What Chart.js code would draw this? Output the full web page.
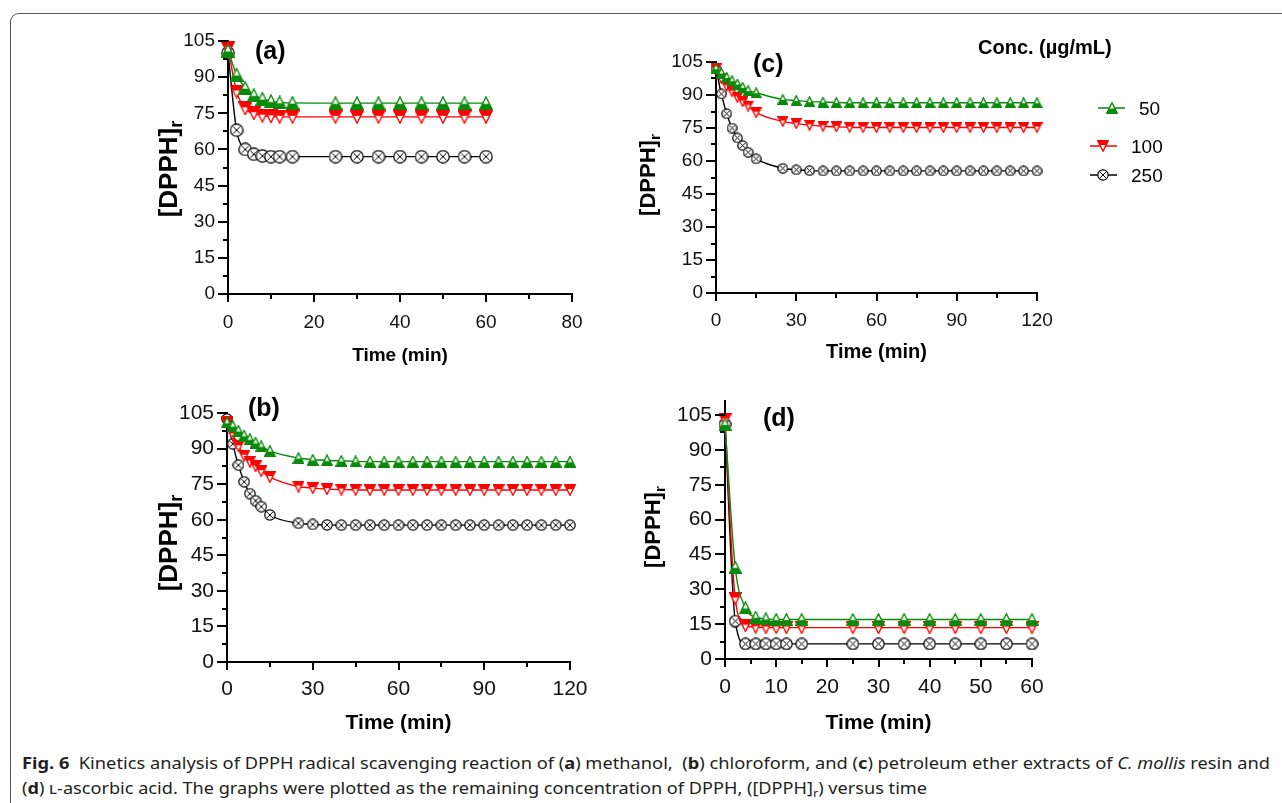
<!DOCTYPE html>
<html><head><meta charset="utf-8">
<script src="https://cdn.jsdelivr.net/npm/chart.js@4/dist/chart.umd.min.js"></script>
<style>
html,body{margin:0;padding:0;background:#fff;width:1282px;height:803px;overflow:hidden;font-family:"Liberation Sans",Arial,sans-serif;color:#000}
.frame{position:absolute;left:10px;top:13px;width:1400px;height:900px;border-top:1px solid #555;border-left:1px solid #555;border-top-left-radius:9px;box-sizing:border-box}
.pan{position:absolute}
.ytitle{position:absolute;font-weight:bold;white-space:nowrap;line-height:1;transform:translate(-50%,-50%) rotate(-90deg)}
.ytitle sub{font-size:70%;vertical-align:-0.3em;line-height:0}
.plabel{position:absolute;font-weight:bold;font-size:25px;line-height:1;white-space:nowrap}
.legtitle{position:absolute;font-weight:bold;font-size:20px;line-height:1;white-space:nowrap}
.legtxt{position:absolute;font-size:19px;line-height:1;white-space:nowrap}
.cap{position:absolute;left:22px;font-family:"Noto Sans","Open Sans",sans-serif;font-size:16px;line-height:20px;white-space:nowrap;color:#231f20;transform-origin:0 50%}
.cap sub{font-size:70%;vertical-align:-0.25em;line-height:0}
</style>
</head><body>
<div class="frame"></div>
<div class="pan" id="pa"><canvas id="ca"></canvas></div>
<div class="pan" id="pb"><canvas id="cb"></canvas></div>
<div class="pan" id="pc"><canvas id="cc"></canvas></div>
<div class="pan" id="pd"><canvas id="cd"></canvas></div>

<div class="ytitle" style="left:168px;top:169px;font-size:26px">[DPPH]<sub>r</sub></div>
<div class="ytitle" style="left:648px;top:175px;font-size:22px">[DPPH]<sub>r</sub></div>
<div class="ytitle" style="left:168px;top:543px;font-size:26px">[DPPH]<sub>r</sub></div>
<div class="ytitle" style="left:653px;top:527px;font-size:22px">[DPPH]<sub>r</sub></div>

<div class="plabel" style="left:255px;top:38px">(a)</div>
<div class="plabel" style="left:753px;top:51px">(c)</div>
<div class="plabel" style="left:248px;top:395px">(b)</div>
<div class="plabel" style="left:763px;top:405px">(d)</div>

<div class="legtitle" style="left:978px;top:37px">Conc. (µg/mL)</div>
<canvas id="lg1" width="40" height="20" style="position:absolute;left:1092px;top:98px"></canvas>
<canvas id="lg2" width="40" height="20" style="position:absolute;left:1084px;top:136px"></canvas>
<canvas id="lg3" width="40" height="20" style="position:absolute;left:1084px;top:165px"></canvas>
<div class="legtxt" style="left:1139px;top:99px">50</div>
<div class="legtxt" style="left:1131px;top:137px">100</div>
<div class="legtxt" style="left:1131px;top:166px">250</div>

<div class="cap" id="cap1" style="top:753px"><b>Fig. 6</b>&nbsp; Kinetics analysis of DPPH radical scavenging reaction of (<b>a</b>) methanol, &nbsp;(<b>b</b>) chloroform, and (<b>c</b>) petroleum ether extracts of <i>C. mollis</i> resin and</div>
<div class="cap" id="cap2" style="top:778px">(<b>d</b>) <span style="font-variant:small-caps">l</span>-ascorbic acid. The graphs were plotted as the remaining concentration of DPPH, ([DPPH]<sub>r</sub>) versus time</div>

<script>
// ---------------- data ----------------
const timeShort = [0,2,4,6,8,10,12,15,25,30,35,40,45,50,55,60];
const timeLong  = [0,2,4,6,8,10,12,15,25,30,35,40,45,50,55,60,65,70,75,80,85,90,95,100,105,110,115,120];
const concLabels = ['50','100','250'];
const yTicks = [0,15,30,45,60,75,90,105];

// (a) methanol
const a50  = [101,91,85.5,82.5,81,80,79.5,79.3,79.2,79.2,79.2,79.2,79.2,79.2,79.2,79.2];
const a100 = [102,84,77,75,74,73.7,73.5,73.5,73.5,73.5,73.5,73.5,73.5,73.5,73.5,73.5];
const a250 = [100,68,60,58,57.3,57,57,57,57,57,57,57,57,57,57,57];
// (b) chloroform
const b50  = [101,99.5,97.5,95.5,94,92.5,91,89,86,85.3,85,84.8,84.6,84.5,84.5,84.5,84.5,84.5,84.5,84.5,84.5,84.5,84.5,84.5,84.5,84.5,84.5,84.5];
const b100 = [101,96,91,87,84.5,82.5,80.5,78,74,73.3,72.9,72.7,72.6,72.5,72.5,72.5,72.5,72.5,72.5,72.5,72.5,72.5,72.5,72.5,72.5,72.5,72.5,72.5];
const b250 = [102.5,92,83,76,71,68,65.5,62,58.5,58,57.8,57.7,57.7,57.7,57.7,57.7,57.7,57.7,57.7,57.7,57.7,57.7,57.7,57.7,57.7,57.7,57.7,57.7];
// (c) petroleum ether
const c50  = [102,100,98,96.5,95,93.5,92,91,88,87.5,87,86.8,86.6,86.5,86.5,86.5,86.5,86.5,86.5,86.5,86.5,86.5,86.5,86.5,86.5,86.5,86.5,86.5];
const c100 = [102,97.5,94,91.5,89,87,85,82,78,77,76.3,75.8,75.5,75.3,75.2,75.2,75.2,75.2,75.2,75.2,75.2,75.2,75.2,75.2,75.2,75.2,75.2,75.2];
const c250 = [102,90.5,81.5,75,70.5,67,64,61,56.7,56,55.6,55.5,55.5,55.5,55.5,55.5,55.5,55.5,55.5,55.5,55.5,55.5,55.5,55.5,55.5,55.5,55.5,55.5];
// (d) L-ascorbic acid
const d50  = [101,39.5,22,18,17.3,17,17,17,17,17,17,17,17,17,17,17];
const d100 = [103,26,14.3,13.7,13.5,13.5,13.5,13.5,13.5,13.5,13.5,13.5,13.5,13.5,13.5,13.5];
const d250 = [101,16.3,6.5,6.5,6.5,6.5,6.5,6.5,6.5,6.5,6.5,6.5,6.5,6.5,6.5,6.5];

// ---------------- styles ----------------
const GREEN = '#0a8a0a', RED = '#ff0000', BLACK = '#000000';
const FONT = "'Liberation Sans', Arial, sans-serif";

function marker(kind, s, color) {
  const c = document.createElement('canvas');
  c.width = s; c.height = s;
  const g = c.getContext('2d');
  const m = 0.8;
  const shape = () => {
    g.beginPath();
    if (kind === 'up') { g.moveTo(s/2, m); g.lineTo(s-m, s-m); g.lineTo(m, s-m); g.closePath(); }
    else if (kind === 'down') { g.moveTo(m, m); g.lineTo(s-m, m); g.lineTo(s/2, s-m); g.closePath(); }
    else { g.arc(s/2, s/2, s/2-m, 0, Math.PI*2); }
  };
  g.lineWidth = 1.4; g.strokeStyle = color; g.fillStyle = '#fff';
  shape(); g.fill();
  g.save(); shape(); g.clip();
  g.fillStyle = color;
  if (kind === 'up') g.fillRect(0, s*0.55, s, s);
  if (kind === 'down') g.fillRect(0, 0, s, s*0.42);
  if (kind === 'x') {
    const r = (s/2-m)*0.55;
    g.beginPath();
    g.moveTo(s/2-r, s/2-r); g.lineTo(s/2+r, s/2+r);
    g.moveTo(s/2+r, s/2-r); g.lineTo(s/2-r, s/2+r);
    g.lineWidth = 1; g.stroke();
  }
  g.restore();
  g.lineWidth = kind === 'x' ? 1.2 : 1.4;
  shape(); g.stroke();
  return c;
}

const tickPlugin = {
  id: 'axisTicks',
  afterDraw(chart, args, o) {
    const {ctx, chartArea: a} = chart;
    const xs = chart.scales.x, ys = chart.scales.y;
    ctx.save();
    ctx.strokeStyle = '#000';
    ctx.lineWidth = 2;
    const isMajor = (v, step) => Math.abs(v/step - Math.round(v/step)) < 1e-6;
    for (let v = xs.min; v <= xs.max + 1e-9; v += o.xMinor) {
      const px = Math.round(xs.getPixelForValue(v));
      const len = isMajor(v, o.xMajor) ? o.xMajLen : o.xMinLen;
      ctx.beginPath(); ctx.moveTo(px, a.bottom); ctx.lineTo(px, a.bottom + len); ctx.stroke();
    }
    for (let v = ys.min; v <= ys.max + 1e-9; v += o.yMinor) {
      const py = Math.round(ys.getPixelForValue(v));
      const len = isMajor(v, o.yMajor) ? o.yMajLen : o.yMinLen;
      ctx.beginPath(); ctx.moveTo(a.left, py); ctx.lineTo(a.left - len, py); ctx.stroke();
    }
    if (o.yExtend) {
      const x = Math.round(a.left);
      ctx.beginPath(); ctx.moveTo(x, a.top); ctx.lineTo(x, a.top - o.yExtend); ctx.stroke();
    }
    ctx.restore();
  }
};

function build(cid, pid, p) {
  const YW = 70, PT = 18, PR = 32;
  const W = (p.r - p.l) + YW + PR;
  const H = (p.b - p.t) + PT + p.xh;
  const pan = document.getElementById(pid);
  pan.style.left = (p.l - YW) + 'px';
  pan.style.top = (p.t - PT) + 'px';
  pan.style.width = W + 'px'; pan.style.height = H + 'px';
  const cv = document.getElementById(cid);
  cv.width = W; cv.height = H;
  cv.style.width = W + 'px'; cv.style.height = H + 'px';
  const mk = [marker('up', p.ms, GREEN), marker('down', p.ms, RED), marker('x', p.ms, BLACK)];
  const colors = [GREEN, RED, BLACK];
  const datasets = p.series.map((vals, i) => ({
    label: concLabels[i],
    data: vals.map((v, k) => ({x: p.times[k], y: v})),
    borderColor: colors[i],
    backgroundColor: colors[i],
    borderWidth: 1.4,
    pointStyle: mk[i],
    pointRadius: p.ms/2,
    cubicInterpolationMode: 'monotone',
    clip: false,
    order: i
  }));
  return new Chart(cv, {
    type: 'line',
    data: { datasets },
    plugins: [tickPlugin],
    options: {
      responsive: false,
      animation: false,
      devicePixelRatio: 1,
      layout: { padding: { left: 0, top: PT, right: PR, bottom: 0 } },
      plugins: {
        legend: { display: false },
        tooltip: { enabled: false },
        axisTicks: { xMajor: p.xstep, xMinor: p.xstep/2, yMajor: 15, yMinor: 7.5, xMajLen: 8, xMinLen: 5, yMajLen: 10, yMinLen: 5, yExtend: p.yext || 0 }
      },
      scales: {
        x: {
          type: 'linear', min: 0, max: p.xmax,
          grid: { display: false, drawTicks: false },
          border: { display: true, color: '#000', width: 2 },
          ticks: { stepSize: p.xstep, autoSkip: false, maxRotation: 0, padding: p.xpad, color: '#111', font: { family: FONT, size: p.fs } },
          title: { display: true, text: 'Time (min)', color: '#000', padding: 0, font: { family: FONT, size: p.tfs, weight: 'bold' } },
          afterFit(s) { s.height = p.xh; s.paddingLeft = 0; s.paddingRight = 0; s.paddingTop = 0; s.paddingBottom = 0; }
        },
        y: {
          min: 0, max: 105,
          afterBuildTicks(s) { s.ticks = yTicks.map(v => ({ value: v })); },
          grid: { display: false, drawTicks: false },
          border: { display: true, color: '#000', width: 2 },
          ticks: { padding: 13, color: '#111', font: { family: FONT, size: p.fs } },
          afterFit(s) { s.width = YW; s.paddingLeft = 0; s.paddingRight = 0; s.paddingTop = 0; s.paddingBottom = 0; }
        }
      }
    }
  });
}

build('ca', 'pa', { l:228, t:41, r:572, b:294, xmax:80, xstep:20, fs:19, tfs:19, xh:73, xpad:17, ms:14, times: timeShort, series:[a50,a100,a250] });
build('cc', 'pc', { l:716, t:62, r:1037, b:293, xmax:120, xstep:30, fs:19, tfs:20, xh:71, xpad:16.5, ms:11, times: timeLong, series:[c50,c100,c250] });
build('cb', 'pb', { l:227, t:413, r:570, b:662, xmax:120, xstep:30, fs:21, tfs:21, xh:74, xpad:15, ms:12, times: timeLong, series:[b50,b100,b250] });
build('cd', 'pd', { l:725, t:415, r:1032, b:659, xmax:60, xstep:10, fs:21, tfs:21, xh:77, xpad:16, ms:13, yext:15, times: timeShort, series:[d50,d100,d250] });

// legend icons
[['lg1','up',GREEN, 6, 33, 20],['lg2','down',RED, 6, 33, 19],['lg3','x',BLACK, 6, 33, 19]].forEach(([id, k, col, x0, x1, mx]) => {
  const c = document.getElementById(id), g = c.getContext('2d');
  g.strokeStyle = col; g.lineWidth = 1.5;
  g.beginPath(); g.moveTo(x0, 10); g.lineTo(x1, 10); g.stroke();
  const m = marker(k, 12, col);
  g.drawImage(m, mx - 6, 10 - 6);
});

// caption fit
function fit(id, target) {
  const el = document.getElementById(id);
  const w = el.getBoundingClientRect().width;
  el.style.transform = 'scaleX(' + (target / w) + ')';
}
fit('cap1', 1248);
fit('cap2', 905);
</script>
</body></html>
